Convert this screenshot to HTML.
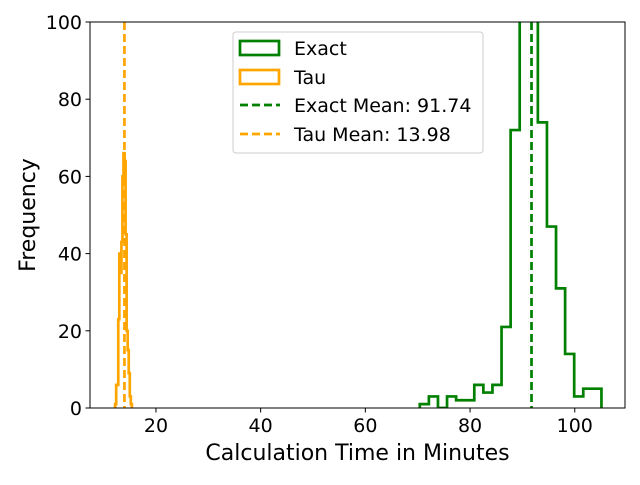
<!DOCTYPE html>
<html><head><meta charset="utf-8"><style>body{margin:0;background:#fff}svg{font-family:"DejaVu Sans","Liberation Sans",sans-serif}</style></head>
<body>
<svg id="chart" width="640" height="480" xmlns="http://www.w3.org/2000/svg">
<g id="plot"></g>
</svg>
<script>
const exactStart = 70.4, exactBinWidth = 1.735;
const exactCounts = [1,3,0,3,2,2,6,4,6,21,72,110,103,74,47,31,14,3,5,5];
const tauStart = 12.2, tauBinWidth = 0.2;
const tauCounts = [1,6,6,23,40,35,43,60,66,64,45,20,15,9,3,1];
const exactMean = 91.74, tauMean = 13.98;
const xTicks = [20,40,60,80,100];
const yTicks = [0,20,40,60,80,100];
const xMin = 7.4, xMax = 109.6, yMin = 0, yMax = 100;
const L = 90, R = 625, T = 22, B = 408;
const X = v => L + (v - xMin) / (xMax - xMin) * (R - L);
const Y = v => B - (v - yMin) / (yMax - yMin) * (B - T);
const ns = "http://www.w3.org/2000/svg";
const svg = document.getElementById('chart');
function mk(tag, attrs, parent) { const e = document.createElementNS(ns, tag); for (const k in attrs) e.setAttribute(k, attrs[k]); (parent || svg).appendChild(e); return e; }
const defs = mk('clipPath', {id: 'clip'}); mk('rect', {x: L, y: T, width: R - L, height: B - T}, defs);
function stepPath(start, w, counts) {
  let d = `M${X(start)},${Y(0)}`;
  counts.forEach((c, i) => { d += ` L${X(start + i * w)},${Y(c)} L${X(start + (i + 1) * w)},${Y(c)}`; });
  d += ` L${X(start + counts.length * w)},${Y(0)}`;
  return d;
}
const g = mk('g', {'clip-path': 'url(#clip)'});
const ex = mk('path', {d: stepPath(exactStart, exactBinWidth, exactCounts), fill: 'none', stroke: 'green', 'stroke-width': 2.7}, g);


const ta = mk('path', {d: stepPath(tauStart, tauBinWidth, tauCounts), fill: 'none', stroke: 'orange', 'stroke-width': 2.7}, g);


const em = mk('line', {x1: X(exactMean), x2: X(exactMean), y1: T, y2: B, stroke: 'green', 'stroke-width': 2.7, 'stroke-dasharray': '8,4'}, g);


const tm = mk('line', {x1: X(tauMean), x2: X(tauMean), y1: T, y2: B, stroke: 'orange', 'stroke-width': 2.7, 'stroke-dasharray': '8,4'}, g);


const frame = mk('rect', {x: L, y: T, width: R - L, height: B - T, fill: 'none', stroke: '#000', 'stroke-width': 1});


xTicks.forEach(t => {
  mk('line', {x1: X(t), x2: X(t), y1: B, y2: B + 4.5, stroke: '#000'});
  const tx = mk('text', {x: X(t), y: B + 24, 'font-size': 19, 'text-anchor': 'middle'}); tx.textContent = t;
  
  
});
yTicks.forEach(t => {
  mk('line', {x1: L - 4.5, x2: L, y1: Y(t), y2: Y(t), stroke: '#000'});
  const tx = mk('text', {x: L - 8, y: Y(t) + 7, 'font-size': 19, 'text-anchor': 'end'}); tx.textContent = t;
  
  
});
const xt = mk('text', {x: (L + R) / 2, y: 460, 'font-size': 22, 'text-anchor': 'middle'}); xt.textContent = 'Calculation Time in Minutes';


const yt = mk('text', {x: 0, y: 0, 'font-size': 22, 'text-anchor': 'middle', transform: `translate(35,${(T + B) / 2}) rotate(-90)`}); yt.textContent = 'Frequency';


const lg = mk('g', {});


mk('rect', {x: 233, y: 32, width: 250, height: 121, rx: 3, fill: '#fff', 'fill-opacity': 0.8, stroke: '#ccc'}, lg);
mk('rect', {x: 240, y: 41, width: 39, height: 14, fill: 'none', stroke: 'green', 'stroke-width': 2.7}, lg);
mk('rect', {x: 240, y: 70, width: 39, height: 14, fill: 'none', stroke: 'orange', 'stroke-width': 2.7}, lg);
mk('line', {x1: 240, x2: 280, y1: 105, y2: 105, stroke: 'green', 'stroke-width': 2.7, 'stroke-dasharray': '8,4'}, lg);
mk('line', {x1: 240, x2: 280, y1: 134, y2: 134, stroke: 'orange', 'stroke-width': 2.7, 'stroke-dasharray': '8,4'}, lg);
[['Exact', 55], ['Tau', 84], ['Exact Mean: 91.74', 112], ['Tau Mean: 13.98', 141]].forEach(([s, y]) => {
  const t = mk('text', {x: 294, y: y, 'font-size': 19}, lg); t.textContent = s;
  
  
});
</script>
</body></html>
